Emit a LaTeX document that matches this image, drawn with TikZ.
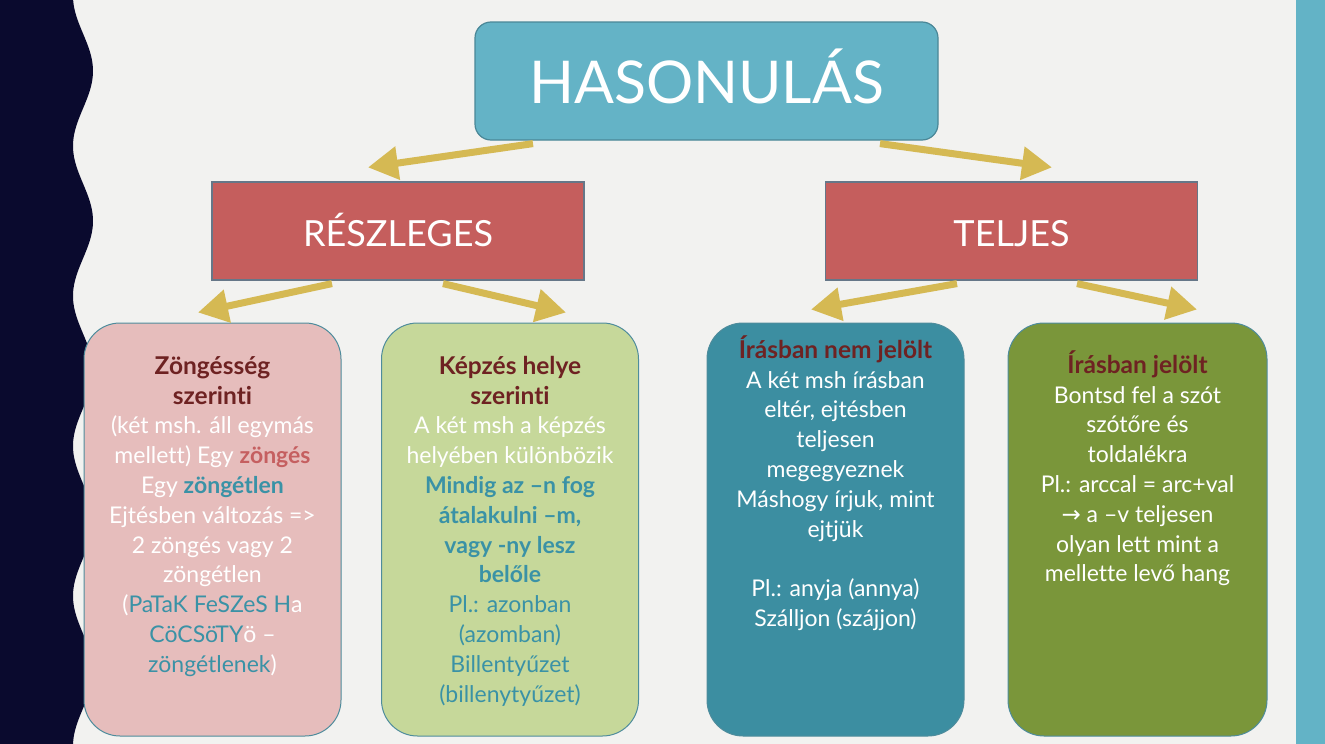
\documentclass[tikz,border=0pt]{standalone}
\usepackage{fontspec}
\setmainfont{Lato}[Ligatures={TeX,NoCommon}]
\newfontfamily\dejavu{DejaVu Sans}
\usetikzlibrary{arrows.meta,calc}
\definecolor{bg}{HTML}{F2F2F0}
\definecolor{navy}{HTML}{0A0A2E}
\definecolor{stripe}{HTML}{63B3C6}
\definecolor{hasfill}{HTML}{64B3C6}
\definecolor{hasdraw}{HTML}{4A8797}
\definecolor{redfill}{HTML}{C55E5D}
\definecolor{reddraw}{HTML}{667788}
\definecolor{pinkfill}{HTML}{E6BDBC}
\definecolor{lgreen}{HTML}{C6D89A}
\definecolor{tealfill}{HTML}{3C8EA1}
\definecolor{olive}{HTML}{7A963A}
\definecolor{boxdraw}{HTML}{4E8C9C}
\definecolor{dred}{HTML}{6E2222}
\definecolor{tealt}{HTML}{3A92A6}
\definecolor{pinkt}{HTML}{C55F60}
\definecolor{gold}{HTML}{D5B953}
\newcommand{\ttl}[1]{{\fontsize{24.5}{29.8}\selectfont\bfseries\color{dred}#1}}
\begin{document}
\begin{tikzpicture}[x=1pt,y=-1pt,
  titlebox/.style={draw=hasdraw, line width=1.2pt, fill=hasfill, rounded corners=16pt,
    inner sep=0pt, text width=463pt, text height=81pt, text depth=37pt, align=center,
    text=white, font=\fontsize{59}{70}\selectfont},
  catbox/.style={draw=reddraw, line width=1.2pt, fill=redfill, inner sep=0pt,
    text width=372pt, text height=64pt, text depth=34pt, align=center,
    text=white, font=\fontsize{36}{42}\selectfont},
  leaf/.style={draw=boxdraw, line width=1pt, rounded corners=36pt,
    minimum width=257pt, minimum height=413pt, inner sep=0pt},
  leaftext/.style={anchor=north, inner sep=0pt, align=center, text=white,
    font=\fontsize{23}{29.8}\selectfont},
  conn/.style={draw=gold, line width=7pt, -{Triangle[length=30pt,width=32pt]}}
]
\useasboundingbox (0,0) rectangle (1325,744);
\fill[bg] (0,0) rectangle (1325,744);
\fill[navy] (0,0) -- plot[domain=0:744, samples=300, variable=\t] ({83+10*cos(2.4*(\t-71))}, \t) -- (0,744) -- cycle;
\fill[stripe] (1296,0) rectangle (1325,744);

\node[titlebox] (has) at (706.5,81) {HASONULÁS};
\node[catbox] (resz) at (398,231) {RÉSZLEGES};
\node[catbox] (tel) at (1011.5,231) {TELJES};

\node[leaf, fill=pinkfill] (b1) at (212.5,529.5) {};
\node[leaf, fill=lgreen] (b2) at (510,529.5) {};
\node[leaf, fill=tealfill] (b3) at (835.5,529.5) {};
\node[leaf, fill=olive, minimum width=259pt] (b4) at (1137.5,529.5) {};

\node[leaftext] (t1) at (212.5,350) {\rule{0pt}{24pt}\ttl{Zöngésség}\\
\ttl{szerinti}\\
(két msh. áll egymás\\
mellett) Egy \textbf{\color{pinkt}zöngés}\\
Egy \textbf{\color{tealt}zöngétlen}\\
Ejtésben változás =>\\
2 zöngés vagy 2\\
zöngétlen\\
({\color{tealt}PaTaK FeSZeS H}a\\
{\color{tealt}CöCSöTY}ö –\\
{\color{tealt}zöngétlenek})};

\node[leaftext] (t2) at (510,350) {\rule{0pt}{24pt}\ttl{Képzés helye}\\
\ttl{szerinti}\\
A két msh a képzés\\
helyében különbözik\\
\textbf{\color{tealt}Mindig az –n fog}\\
\textbf{\color{tealt}átalakulni –m,}\\
\textbf{\color{tealt}vagy -ny lesz}\\
\textbf{\color{tealt}belőle}\\
{\color{tealt}Pl.: azonban}\\
{\color{tealt}(azomban)}\\
{\color{tealt}Billentyűzet}\\
{\color{tealt}(billenytyűzet)}};

\node[leaftext] (t3) at (835.5,334) {\rule{0pt}{24pt}\ttl{Írásban nem jelölt}\\
A két msh írásban\\
eltér, ejtésben\\
teljesen\\
megegyeznek\\
Máshogy írjuk, mint\\
ejtjük\\[29.8pt]
Pl.: anyja (annya)\\
Szálljon (szájjon)};

\node[leaftext] (t4) at (1137.5,349) {\rule{0pt}{24pt}\ttl{Írásban jelölt}\\
Bontsd fel a szót\\
szótőre és\\
toldalékra\\
Pl.: arccal = arc+val\\
{\dejavu →} a –v teljesen\\
olyan lett mint a\\
mellette levő hang};

\coordinate (a1s) at ($(has.south)+(-173.5,3)$);
\coordinate (a1e) at ($(resz.north)+(-30,-14)$);
\coordinate (a2s) at ($(has.south)+(173.5,3)$);
\coordinate (a2e) at ($(tel.north)+(40.5,-14)$);
\coordinate (a3s) at ($(resz.south)+(-66,3)$);
\coordinate (a3e) at ($(b1.north)+(-14.5,-10)$);
\coordinate (a4s) at ($(resz.south)+(45,3)$);
\coordinate (a4e) at ($(b2.north)+(56,-10)$);
\coordinate (a5s) at ($(tel.south)+(-54.5,3)$);
\coordinate (a5e) at ($(b3.north)+(-24.5,-13)$);
\coordinate (a6s) at ($(tel.south)+(65.5,3)$);
\coordinate (a6e) at ($(b4.north)+(59.5,-13)$);
\draw[conn] (a1s) -- (a1e);
\draw[conn] (a2s) -- (a2e);
\draw[conn] (a3s) -- (a3e);
\draw[conn] (a4s) -- (a4e);
\draw[conn] (a5s) -- (a5e);
\draw[conn] (a6s) -- (a6e);
\end{tikzpicture}
\end{document}
